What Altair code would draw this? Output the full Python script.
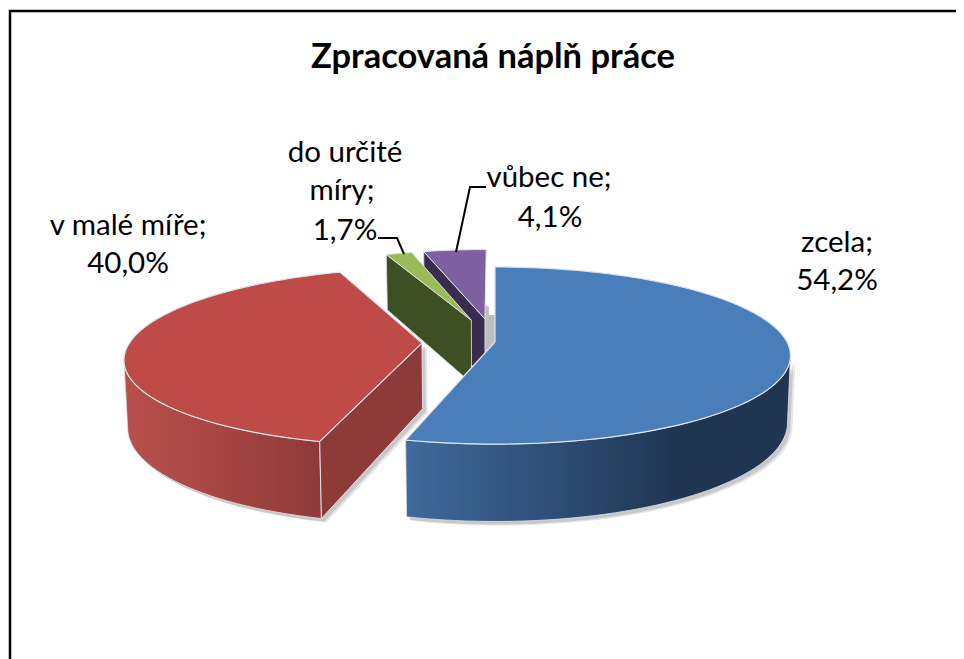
import math
import altair as alt
import pandas as pd

# ---- chart values
categories = ["zcela", "v malé míře", "do určité míry", "vůbec ne"]
shares = [54.2, 40.0, 1.7, 4.1]
title_text = "Zpracovaná náplň práce"

# ---- layout and style
W, H = 956, 659
CX, CY = 495, 342
A, B, P = 292, 86.5, 0.153
DEPTH = 65.5
explode = [0.0, 0.25, 0.275, 0.28]
FONT = "Lato"
TOP = ["#4A7EBB", "#BE4B48", "#9BBB59", "#7D60A0"]
SIDE = ["#1F3552", "#8E3A38", "#3F4F24", "#3A2C4F"]


def proj(X, Y, low=False):
    d = 1 + P * Y
    f = 0.99 if low else 1.0
    return (CX + f * A * X / d, CY - B * Y / d + (DEPTH / d if low else 0))


def grad(stops):
    return alt.Gradient(gradient="linear", x1=0, x2=1, y1=0, y2=0,
                        stops=[alt.GradientStop(offset=o, color=c) for o, c in stops])


bounds = []
acc = 0.0
for s in shares:
    bounds.append((acc * 3.6, (acc + s) * 3.6))
    acc += s


def off(i):
    a = math.radians(sum(bounds[i]) / 2)
    return explode[i] * math.sin(a), explode[i] * math.cos(a)


def rim(i, a0, a1, low=False):
    ox, oy = off(i)
    n = max(2, int(abs(a1 - a0) / 2))
    out = []
    for k in range(n + 1):
        t = math.radians(a0 + (a1 - a0) * k / n)
        out.append(proj(ox + math.sin(t), oy + math.cos(t), low))
    return out


def top_face(i):
    ox, oy = off(i)
    return [proj(ox, oy)] + rim(i, *bounds[i])


def outer_wall(i, a0, a1):
    return rim(i, a0, a1) + rim(i, a0, a1, True)[::-1]


def radial_wall(i, a):
    ox, oy = off(i)
    t = math.radians(a)
    rx, ry = ox + math.sin(t), oy + math.cos(t)
    return [proj(ox, oy), proj(rx, ry), proj(rx, ry, True), proj(ox, oy, True)]


def shifted(pts, dx, dy):
    return [(x + dx, y + dy) for x, y in pts]


X_SCALE = alt.Scale(domain=[8, W], range=[0, W - 8], nice=False, zero=False)
Y_SCALE = alt.Scale(domain=[8, H], range=[0, H - 8], nice=False, zero=False)
XE = alt.X("x:Q", scale=X_SCALE, axis=None)
YE = alt.Y("y:Q", scale=Y_SCALE, axis=None)


def poly(pts, fill, stroke=None, sw=0.0, opacity=1.0):
    pts = list(pts) + [pts[0]]
    df = pd.DataFrame({"x": [p[0] for p in pts], "y": [p[1] for p in pts], "i": range(len(pts))})
    kw = dict(fill=fill, opacity=opacity, clip=False, interpolate="linear")
    kw.update(stroke=stroke if stroke else "transparent", strokeWidth=sw)
    return alt.Chart(df).mark_line(**kw).encode(x=XE, y=YE, order=alt.Order("i:Q"))


def path(pts, color="#000000", width=2.0):
    df = pd.DataFrame({"x": [p[0] for p in pts], "y": [p[1] for p in pts], "i": range(len(pts))})
    return alt.Chart(df).mark_line(color=color, strokeWidth=width, clip=False).encode(
        x=XE, y=YE, order=alt.Order("i:Q"))


def text(s, x, y, size, bold=False):
    df = pd.DataFrame({"x": [x], "y": [y], "t": [s]})
    return alt.Chart(df).mark_text(font=FONT, fontSize=size, fontWeight="bold" if bold else "normal",
                                   color="#000000", align="center", baseline="middle").encode(
        x=XE, y=YE, text="t:N")


EDGE = "#DDE3EA"
layers = []

# frame
layers.append(path([(10, H), (10, 11), (W, 11)], "#000000", 2.5))

# shadows
gray = "#9A9A9A"
blue_wall = outer_wall(0, 99, bounds[0][1])
red_wall = outer_wall(1, bounds[1][0], 259)
red_rad = radial_wall(1, bounds[1][0])
green_rad = radial_wall(2, bounds[2][0])
purple_rad = radial_wall(3, bounds[3][0])
for dx, dy, op in [(5, 4, 0.25), (3, 3, 0.4)]:
    layers.append(poly(shifted(blue_wall, dx, dy), gray, opacity=op))
    layers.append(poly(shifted(red_wall, dx, dy), gray, opacity=op))
    layers.append(poly(shifted(red_rad, dx, dy), gray, opacity=op))
    layers.append(poly(shifted(green_rad, dx, dy), gray, opacity=op))
ax, ay = proj(*off(3))
layers.append(poly([(ax, ay - 14), (ax + 4, ay - 12), (ax + 4, ay - 4), (ax + 10, ay - 4),
                    (ax + 10, ay + 27), (ax, ay + 34)], "#BDBDBD"))

# detached slices at the back
layers.append(poly(purple_rad, SIDE[3], EDGE, 0.8))
layers.append(poly(top_face(3), TOP[3], EDGE, 1.0))
layers.append(poly(green_rad, SIDE[2], EDGE, 0.8))
layers.append(poly(top_face(2), TOP[2], EDGE, 1.0))

# red slice
layers.append(poly(red_wall, grad([(0, "#B9504C"), (0.45, "#A84643"), (1, "#8E3A38")]), EDGE, 0.8))
layers.append(poly(red_rad, SIDE[1], EDGE, 1.0))
layers.append(poly(top_face(1), TOP[1], EDGE, 1.2))

# blue slice
layers.append(poly(blue_wall, grad([(0, "#3F6A9B"), (0.35, "#2F5079"), (0.7, "#1F3552"), (1, "#1F3552")]), EDGE, 0.8))
layers.append(poly(top_face(0), TOP[0], EDGE, 1.2))

# leader lines
layers.append(path([(378, 238), (397, 238), (404, 254)], "#000000", 2.0))
layers.append(path([(486, 187), (470, 187), (456, 252)], "#000000", 2.0))

# texts
layers.append(text(title_text, 493, 58, 34.5, True))
for s, x, y in [("zcela;", 837, 243), (f"{shares[0]:.1f}%".replace(".", ","), 837, 281),
                ("v malé míře;", 128, 226), (f"{shares[1]:.1f}%".replace(".", ","), 128, 264),
                ("do určité", 345, 153), ("míry;", 342, 191), (f"{shares[2]:.1f}%".replace(".", ","), 345, 231),
                ("vůbec ne;", 549, 178), (f"{shares[3]:.1f}%".replace(".", ","), 550, 218)]:
    layers.append(text(s, x, y, 29.5))

chart = alt.layer(*layers).properties(
    width=W - 8, height=H - 8, padding=0, autosize=alt.AutoSizeParams(type="none"), background="#FFFFFF"
).configure_view(stroke=None)

chart.save("out.html", embed_options={"renderer": "svg", "actions": False})
